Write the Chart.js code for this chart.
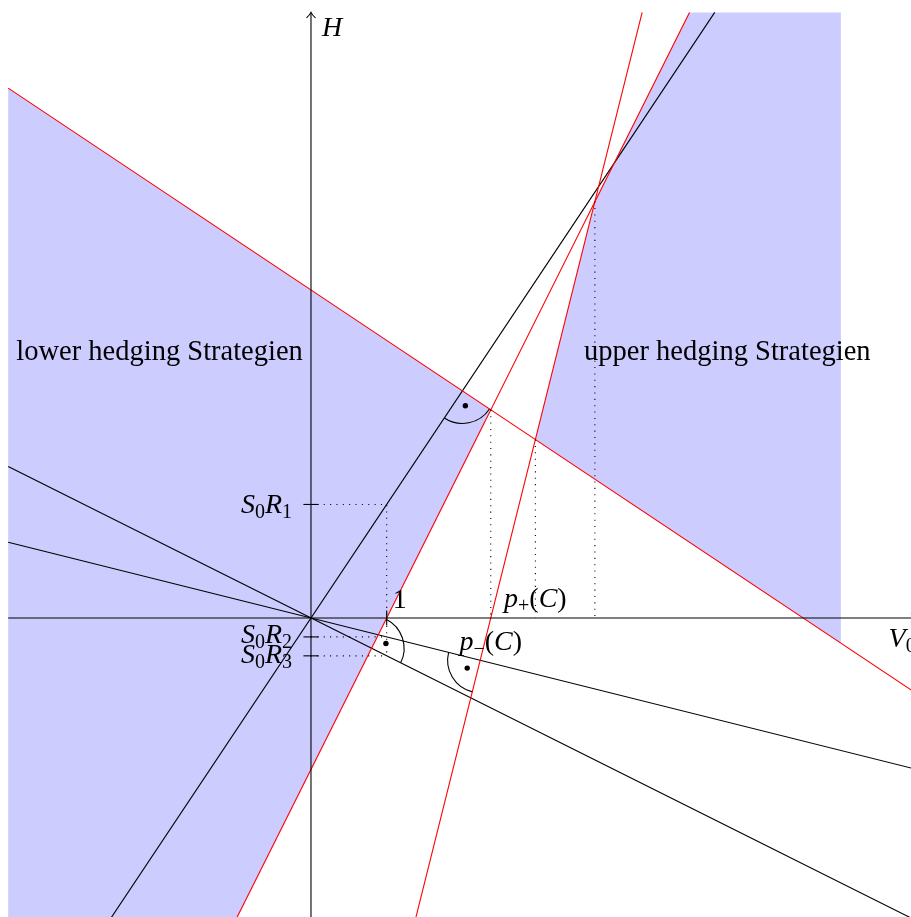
<!DOCTYPE html>
<html>
<head>
<meta charset="utf-8">
<script src="https://cdn.jsdelivr.net/npm/chart.js@4.4.1/dist/chart.umd.min.js"></script>
<style>
  html, body { margin: 0; padding: 0; background: #fff; overflow: hidden; }
  canvas { display: block; }
</style>
</head>
<body>
<canvas id="chart" width="911" height="917"></canvas>
<script>
// ── Data ─────────────────────────────────────────────────────────────────────

const SLOPES      = [1.5, -0.25, -0.5];      // S0R1, S0R2, S0R3 (black lines H = S0R_i * V0)
const LEVELS      = [6.5, 2.375, 1];         // red lines  V0 + S0R_i * H = LEVELS[i]
const TICK_NAMES  = ['1', '2', '3'];         // subscripts of the S0R_i tick labels
const X_TICKS     = [1];
const BOX         = [-4, 8];                 // everything is clipped to this square
const SHADE_RIGHT = 7;                       // right edge of the upper shaded region
const VIEW_X      = [-4.108, 7.926];
const VIEW_Y      = [-3.95, 8.164];
const TEXT_LOWER  = 'lower hedging Strategien';
const TEXT_UPPER  = 'upper hedging Strategien';
const TEXT_POS    = [[-2, 3.5], [5.5, 3.5]];

const C_SHADE = 'rgb(204,204,255)';
const C_RED   = '#ff0000';
const C_BLACK = '#000000';
const LW      = 1.1;
const DOTTED  = [1.06, 5.3];

const F_TXT = '28.5px "Liberation Serif"';
const F_IT  = 'italic 28px "Liberation Serif"';
const F_RM  = '28px "Liberation Serif"';
const F_SUB = '20px "Liberation Serif"';

// ── Geometry helpers ─────────────────────────────────────────────────────────

// red line i: V + s*H = c
function redH(i, v) { return (LEVELS[i] - v) / SLOPES[i]; }
function redV(i, h) { return LEVELS[i] - SLOPES[i] * h; }
function meet(i, j) {
  const h = (LEVELS[i] - LEVELS[j]) / (SLOPES[i] - SLOPES[j]);
  return { x: LEVELS[i] - SLOPES[i] * h, y: h };
}
// foot of the perpendicular: black line i meets red line i
function foot(i) {
  const s = SLOPES[i];
  const v = LEVELS[i] / (1 + s * s);
  return { x: v, y: s * v };
}

// segment of a*V + b*H = c inside BOX
function boxSegment(a, b, c) {
  const pts = [];
  const inside = t => t >= BOX[0] - 1e-9 && t <= BOX[1] + 1e-9;
  if (b !== 0) BOX.forEach(v => { const h = (c - a * v) / b; if (inside(h)) pts.push({ x: v, y: h }); });
  if (a !== 0) BOX.forEach(h => { const v = (c - b * h) / a; if (inside(v)) pts.push({ x: v, y: h }); });
  pts.sort((p, q) => p.x - q.x || p.y - q.y);
  return [pts[0], pts[pts.length - 1]];
}

// ── Datasets ─────────────────────────────────────────────────────────────────

function lineSet(points, color, order, dash) {
  return {
    type: 'scatter', data: points, showLine: true, fill: false,
    borderColor: color, borderWidth: LW, borderDash: dash || [],
    pointRadius: 0, tension: 0, order,
  };
}

function shapeSet(points) {
  return {
    type: 'scatter', data: points.concat([points[0]]), showLine: true, fill: 'shape',
    backgroundColor: C_SHADE, borderColor: C_SHADE, borderWidth: 0,
    pointRadius: 0, tension: 0, order: 50,
  };
}

const iHi = 0, iMid = 1, iLo = 2;   // indices in SLOPES: 1.5, -0.25, -0.5

const lowerShade = [
  { x: BOX[0], y: redH(iHi, BOX[0]) },
  meet(iHi, iLo),
  { x: redV(iLo, BOX[0]), y: BOX[0] },
  { x: BOX[0], y: BOX[0] },
];
const upperShade = [
  { x: redV(iLo, BOX[1]), y: BOX[1] },
  { x: SHADE_RIGHT, y: BOX[1] },
  { x: SHADE_RIGHT, y: redH(iHi, SHADE_RIGHT) },
  meet(iHi, iMid),
  meet(iMid, iLo),
];

const datasets = [shapeSet(lowerShade), shapeSet(upperShade)];

// black lines through the origin, red lines perpendicular to them
SLOPES.forEach(s => datasets.push(lineSet(boxSegment(s, -1, 0), C_BLACK, 30)));
SLOPES.forEach((s, i) => datasets.push(lineSet(boxSegment(1, s, LEVELS[i]), C_RED, 20)));

// axes
datasets.push(lineSet([{ x: BOX[0], y: 0 }, { x: BOX[1], y: 0 }], C_BLACK, 10));
datasets.push(lineSet([{ x: 0, y: BOX[0] }, { x: 0, y: BOX[1] }], C_BLACK, 10));

// ticks
SLOPES.forEach(s => datasets.push(lineSet([{ x: -0.1, y: s }, { x: 0.1, y: s }], C_BLACK, 10)));
X_TICKS.forEach(t => datasets.push(lineSet([{ x: t, y: -0.1 }, { x: t, y: 0.1 }], C_BLACK, 10)));

// dotted helpers
datasets.push(lineSet([{ x: 0, y: SLOPES[iHi] }, { x: 1, y: SLOPES[iHi] }, { x: 1, y: SLOPES[iLo] }], C_BLACK, 5, DOTTED));
SLOPES.slice(1).forEach(s => datasets.push(lineSet([{ x: 0, y: s }, { x: 1, y: s }], C_BLACK, 5, DOTTED)));
[meet(iHi, iLo), meet(iHi, iMid), meet(iMid, iLo)].forEach(p =>
  datasets.push(lineSet([p, { x: p.x, y: 0 }], C_BLACK, 5, DOTTED)));

// ── Decorations (right angles, arrows, labels) ───────────────────────────────

// which way the arc opens: sign on black direction (1,s) and red direction (s,-1)
const MARK_SIDES = [[-1, 1], [-1, 1], [1, -1]];

function drawParts(ctx, parts, x, y, align) {
  const font = st => st === 'i' ? F_IT : st === 's' ? F_SUB : st === 't' ? F_TXT : F_RM;
  let w = 0;
  parts.forEach(([t, st]) => { ctx.font = font(st); w += ctx.measureText(t).width; });
  let cx = align === 'right' ? x - w : align === 'center' ? x - w / 2 : x;
  parts.forEach(([t, st]) => {
    ctx.font = font(st);
    ctx.fillText(t, cx, y + (st === 's' ? 5 : 0));
    cx += ctx.measureText(t).width;
  });
}

const decor = {
  id: 'decor',
  afterDatasetsDraw(chart) {
    const { ctx, scales: { x, y } } = chart;
    const px = p => ({ x: x.getPixelForValue(p.x), y: y.getPixelForValue(p.y) });
    const unit = x.getPixelForValue(1) - x.getPixelForValue(0);
    ctx.save();
    ctx.strokeStyle = C_BLACK;
    ctx.fillStyle = C_BLACK;
    ctx.lineWidth = LW;

    // right-angle marks
    SLOPES.forEach((s, i) => {
      const c = px(foot(i));
      const [sb, sr] = MARK_SIDES[i];
      const d1 = { x: sb * 1, y: sb * s }, d2 = { x: sr * s, y: -sr };
      const n1 = Math.hypot(d1.x, d1.y), n2 = Math.hypot(d2.x, d2.y);
      let a1 = Math.atan2(-d1.y / n1, d1.x / n1), a2 = Math.atan2(-d2.y / n2, d2.x / n2);
      if (((a2 - a1) % (2 * Math.PI) + 2 * Math.PI) % (2 * Math.PI) > Math.PI) [a1, a2] = [a2, a1];
      ctx.beginPath();
      ctx.arc(c.x, c.y, 0.43 * unit, a1, a2, false);
      ctx.stroke();
      const bx = d1.x / n1 + d2.x / n2, by = d1.y / n1 + d2.y / n2, bn = Math.hypot(bx, by);
      ctx.beginPath();
      ctx.arc(c.x + 0.2 * unit * bx / bn, c.y - 0.2 * unit * by / bn, 2.7, 0, 2 * Math.PI);
      ctx.fill();
    });

    // arrow heads
    const tipY = px({ x: 0, y: BOX[1] });
    ctx.beginPath();
    ctx.moveTo(tipY.x - 4.5, tipY.y + 5.5);
    ctx.quadraticCurveTo(tipY.x - 0.8, tipY.y + 2, tipY.x, tipY.y);
    ctx.quadraticCurveTo(tipY.x + 0.8, tipY.y + 2, tipY.x + 4.5, tipY.y + 5.5);
    ctx.stroke();
    const tipX = px({ x: BOX[1], y: 0 });
    ctx.beginPath();
    ctx.moveTo(tipX.x - 5.5, tipX.y - 4.5);
    ctx.quadraticCurveTo(tipX.x - 2, tipX.y - 0.8, tipX.x, tipX.y);
    ctx.quadraticCurveTo(tipX.x - 2, tipX.y + 0.8, tipX.x - 5.5, tipX.y + 4.5);
    ctx.stroke();

    // axis labels
    ctx.textBaseline = 'alphabetic';
    drawParts(ctx, [['H', 'i']], tipY.x + 11, tipY.y + 24, 'left');
    drawParts(ctx, [['V', 'i'], ['0', 's']], tipX.x - 28, tipX.y + 29, 'left');
    X_TICKS.forEach(t => {
      const p = px({ x: t, y: 0 });
      drawParts(ctx, [[String(t), 'r']], p.x + 6, p.y - 10, 'left');
    });
    const TICK_DY = [9, 6.5, 7];
    SLOPES.forEach((s, i) => {
      const p = px({ x: 0, y: s });
      drawParts(ctx, [['S', 'i'], ['0', 's'], ['R', 'i'], [TICK_NAMES[i], 's']], p.x - 19, p.y + TICK_DY[i], 'right');
    });
    const pPlus = px({ x: meet(iHi, iMid).x, y: 0 });
    drawParts(ctx, [['p', 'i'], ['+', 's'], ['(', 'r'], ['C', 'i'], [')', 'r']], pPlus.x, pPlus.y - 11, 'center');
    const pMinus = px({ x: meet(iHi, iLo).x, y: 0 });
    drawParts(ctx, [['p', 'i'], ['\u2212', 's'], ['(', 'r'], ['C', 'i'], [')', 'r']], pMinus.x, pMinus.y + 32, 'center');

    // region labels
    [TEXT_LOWER, TEXT_UPPER].forEach((t, k) => {
      const p = px({ x: TEXT_POS[k][0], y: TEXT_POS[k][1] });
      drawParts(ctx, [[t, 't']], p.x, p.y + 7, 'center');
    });
    ctx.restore();
  }
};

// ── Chart ────────────────────────────────────────────────────────────────────

new Chart(document.getElementById('chart'), {
  type: 'scatter',
  data: { datasets },
  options: {
    responsive: false,
    animation: false,
    events: [],
    layout: { padding: 0, autoPadding: false },
    plugins: { legend: { display: false }, tooltip: { enabled: false } },
    scales: {
      x: { type: 'linear', min: VIEW_X[0], max: VIEW_X[1], display: false },
      y: { type: 'linear', min: VIEW_Y[0], max: VIEW_Y[1], display: false },
    },
  },
  plugins: [decor],
});
</script>
</body>
</html>
